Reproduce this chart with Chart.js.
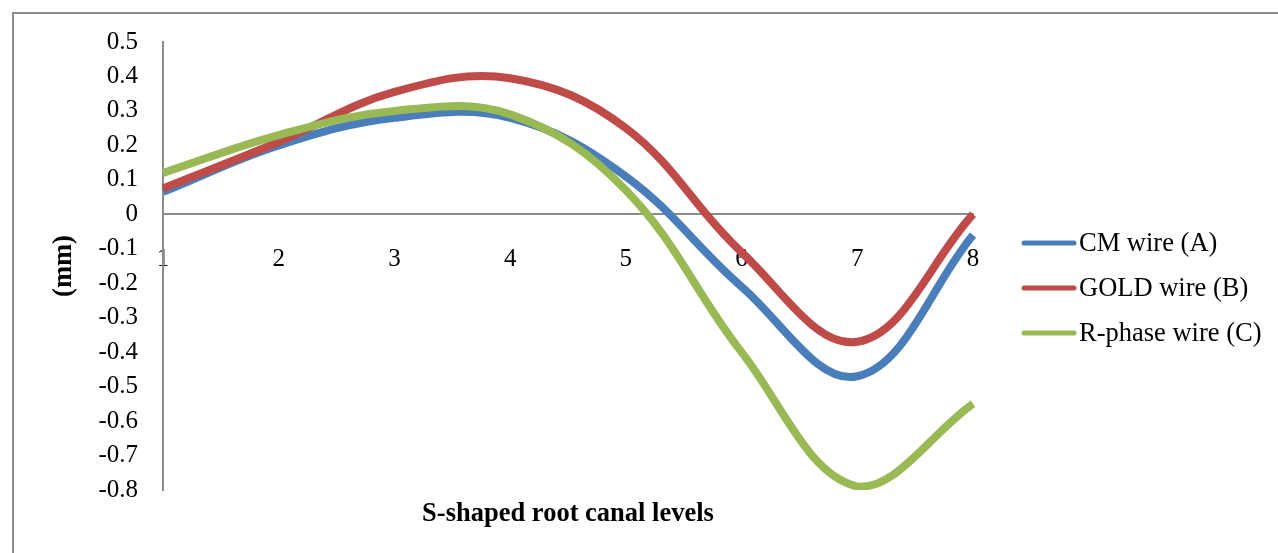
<!DOCTYPE html>
<html>
<head>
<meta charset="utf-8">
<script src="https://cdn.jsdelivr.net/npm/chart.js@4"></script>
<style>
html,body{margin:0;padding:0;background:#fff;}
#wrap{position:relative;width:1278px;height:553px;}
</style>
</head>
<body>
<div id="wrap"><canvas id="c" width="1278" height="553"></canvas></div>
<script>
const categories = ['1','2','3','4','5','6','7','8'];
const cmWire = [0.065, 0.20, 0.28, 0.28, 0.11, -0.21, -0.47, -0.06];
const goldWire = [0.075, 0.21, 0.355, 0.395, 0.25, -0.11, -0.37, 0.0];
const rPhaseWire = [0.12, 0.23, 0.30, 0.29, 0.07, -0.40, -0.79, -0.55];
const seriesNames = ['CM wire (A)', 'GOLD wire (B)', 'R-phase wire (C)'];
const yTitle = '(mm)';
const xTitle = 'S-shaped root canal levels';

const SERIF = '"Liberation Serif", "Times New Roman", serif';

const framePlugin = {
  id: 'frame',
  beforeDraw(chart) {
    const ctx = chart.ctx;
    ctx.save();
    ctx.strokeStyle = '#8c8c8c';
    ctx.lineWidth = 2;
    ctx.beginPath();
    ctx.moveTo(13, chart.height);
    ctx.lineTo(13, 13);
    ctx.lineTo(chart.width, 13);
    ctx.stroke();
    ctx.restore();
  }
};

const extrasPlugin = {
  id: 'extras',
  afterDraw(chart) {
    const ctx = chart.ctx;
    const area = chart.chartArea;
    ctx.save();
    // x axis title
    ctx.fillStyle = '#000';
    ctx.font = 'bold 26.5px ' + SERIF;
    ctx.textAlign = 'center';
    ctx.textBaseline = 'middle';
    ctx.fillText(xTitle, (area.left + area.right) / 2, area.bottom + 24);
    // legend
    ctx.font = '26.5px ' + SERIF;
    ctx.textAlign = 'left';
    chart.data.datasets.forEach((ds, i) => {
      const y = 243 + i * 45;
      ctx.strokeStyle = ds.borderColor;
      ctx.lineWidth = 5;
      ctx.lineCap = 'round';
      ctx.beginPath();
      ctx.moveTo(1024, y);
      ctx.lineTo(1074, y);
      ctx.stroke();
      ctx.fillStyle = '#000';
      ctx.fillText(ds.label, 1079, y + 1);
    });
    ctx.restore();
  }
};

const mk = (label, data, color, order) => ({
  label, data,
  borderColor: color,
  backgroundColor: color,
  borderWidth: 8,
  pointRadius: 0,
  tension: 0.38,
  fill: false,
  order
});

new Chart(document.getElementById('c'), {
  type: 'line',
  data: {
    labels: categories,
    datasets: [
      mk(seriesNames[0], cmWire, '#4A7EBB', 3),
      mk(seriesNames[1], goldWire, '#BE4B48', 2),
      mk(seriesNames[2], rPhaseWire, '#98B954', 1)
    ]
  },
  options: {
    responsive: false,
    animation: false,
    events: [],
    layout: { padding: { left: 48, right: 305, top: 42, bottom: 63 } },
    plugins: { legend: { display: false }, tooltip: { enabled: false } },
    scales: {
      x: {
        type: 'category',
        offset: false,
        position: { y: 0 },
        grid: { display: false, drawTicks: false, tickLength: 0 },
        border: { display: true, color: '#8c8c8c', width: 2 },
        ticks: {
          color: '#000',
          font: { family: SERIF, size: 25 },
          padding: 30,
          maxRotation: 0,
          autoSkip: false
        }
      },
      y: {
        min: -0.8,
        max: 0.5,
        afterFit(scale) { scale.width = 115; },
        grid: { display: false, drawTicks: false, tickLength: 0 },
        border: { display: true, color: '#8c8c8c', width: 2 },
        ticks: {
          stepSize: 0.1,
          color: '#000',
          font: { family: SERIF, size: 25 },
          padding: 25,
          callback: (v) => String(Math.round(v * 10) / 10)
        },
        title: {
          display: true,
          text: yTitle,
          color: '#000',
          font: { family: SERIF, size: 26.5, weight: 'bold' },
          padding: { top: 0, bottom: 19 }
        }
      }
    }
  },
  plugins: [framePlugin, extrasPlugin]
});
</script>
</body>
</html>
